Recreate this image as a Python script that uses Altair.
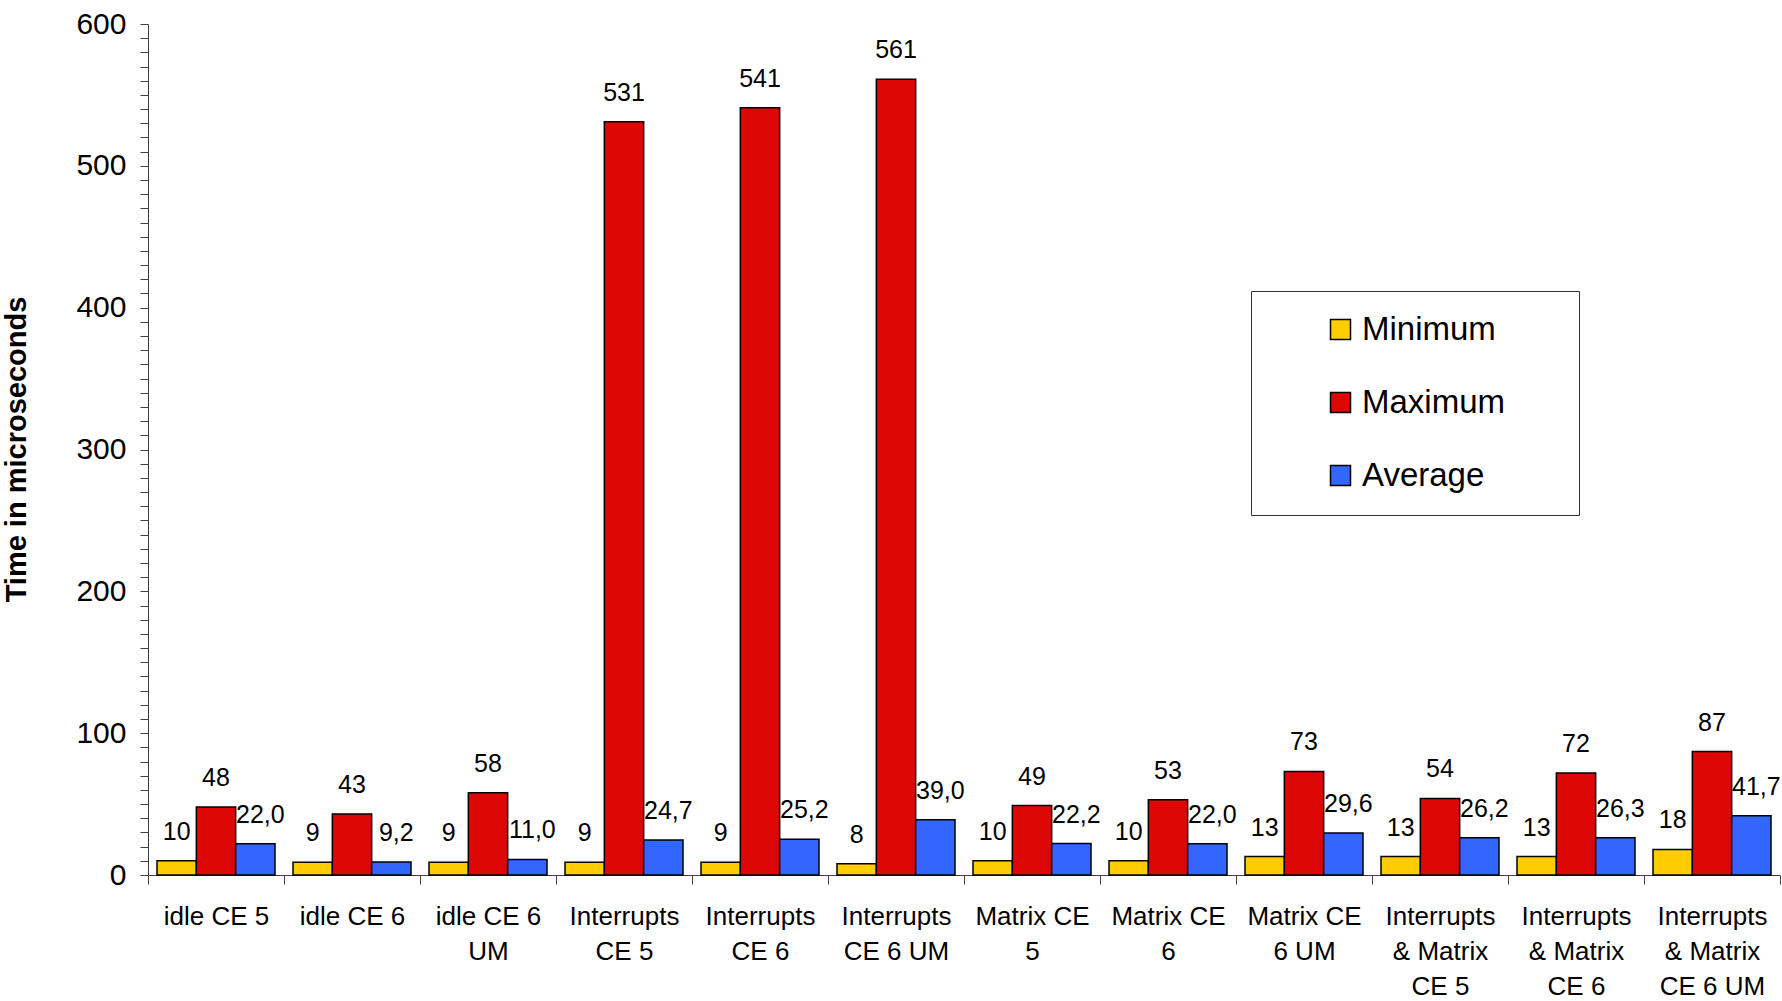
import altair as alt
import pandas as pd

categories = [
    "idle CE 5", "idle CE 6", "idle CE 6|UM",
    "Interrupts|CE 5", "Interrupts|CE 6", "Interrupts|CE 6 UM",
    "Matrix CE|5", "Matrix CE|6", "Matrix CE|6 UM",
    "Interrupts|& Matrix|CE 5", "Interrupts|& Matrix|CE 6", "Interrupts|& Matrix|CE 6 UM",
]
series = ["Minimum", "Maximum", "Average"]
minimum = [10, 9, 9, 9, 9, 8, 10, 10, 13, 13, 13, 18]
maximum = [48, 43, 58, 531, 541, 561, 49, 53, 73, 54, 72, 87]
average = [22.0, 9.2, 11.0, 24.7, 25.2, 39.0, 22.2, 22.0, 29.6, 26.2, 26.3, 41.7]
colors = ["#FFCC00", "#DD0806", "#3366FF"]
y_ticks = list(range(0, 601, 10))

FONT = "Liberation Sans"

rows = []
for i, c in enumerate(categories):
    rows.append({"category": c, "series": "Minimum", "value": minimum[i], "label": str(minimum[i])})
    rows.append({"category": c, "series": "Maximum", "value": maximum[i], "label": str(maximum[i])})
    rows.append({"category": c, "series": "Average", "value": average[i],
                 "label": f"{average[i]:.1f}".replace(".", ",")})
df = pd.DataFrame(rows)

base = alt.Chart(df).encode(
    x=alt.X(
        "category:N", sort=categories,
        scale=alt.Scale(paddingInner=0, paddingOuter=0),
        axis=alt.Axis(
            title=None, labelAngle=0,
            labelExpr="isValid(datum.value) ? split(datum.value, '|') : ''",
            tickBand="extent", tickSize=9, tickColor="#404040", domainColor="#404040",
            labelFontSize=26, labelLineHeight=35, labelPadding=19, labelColor="black",
            labelFont=FONT, labelBaseline="top", labelLimit=300,
        ),
    ),
    xOffset=alt.XOffset("series:N", sort=series,
                        scale=alt.Scale(paddingInner=0, paddingOuter=0.229)),
    y=alt.Y(
        "value:Q",
        scale=alt.Scale(domain=[0, 600], nice=False),
        axis=alt.Axis(
            values=y_ticks,
            labelExpr="datum.value % 100 === 0 ? datum.label : ''",
            labelOverlap=False, grid=False,
            tickSize=8, tickColor="#404040", domainColor="#404040",
            labelFontSize=30, labelPadding=14, labelColor="black", labelFont=FONT,
            title="Time in microseconds", titleFont=FONT, titleFontSize=29,
            titleFontWeight="bold", titleColor="black", titleAngle=270,
            titleX=-132, titleY=425, titleBaseline="middle", titleAlign="center",
        ),
    ),
)

bars = base.mark_bar(stroke="black", strokeWidth=1.5).encode(
    color=alt.Color(
        "series:N", sort=series,
        scale=alt.Scale(domain=series, range=colors),
        legend=alt.Legend(
            title=".", titleOrient="right", titleColor="white", titleFontSize=10,
            titlePadding=49,
            orient="none", legendX=1103, legendY=267,
            padding=22, strokeColor="#333333", fillColor="white",
            labelFontSize=33, labelFont=FONT, labelColor="black", labelOffset=5,
            symbolType="square", symbolSize=400, symbolStrokeColor="black",
            symbolStrokeWidth=1.5, symbolOffset=51, rowPadding=39,
        ),
    )
)

text_minmax = base.transform_filter(alt.datum.series != "Average").mark_text(
    dy=-29, fontSize=25, baseline="middle", font=FONT, color="black"
).encode(text="label:N")

text_avg = base.transform_filter(alt.datum.series == "Average").mark_text(
    dy=-29, dx=5, fontSize=25, baseline="middle", font=FONT, color="black"
).encode(text="label:N")

chart = alt.layer(bars, text_minmax, text_avg).properties(
    width=1632, height=851,
    autosize=alt.AutoSizeParams(type="none"),
    padding={"left": 148, "top": 24, "right": 2, "bottom": 126},
).configure_view(stroke=None)

chart.save("out.html", embed_options={"renderer": "svg", "actions": False})
